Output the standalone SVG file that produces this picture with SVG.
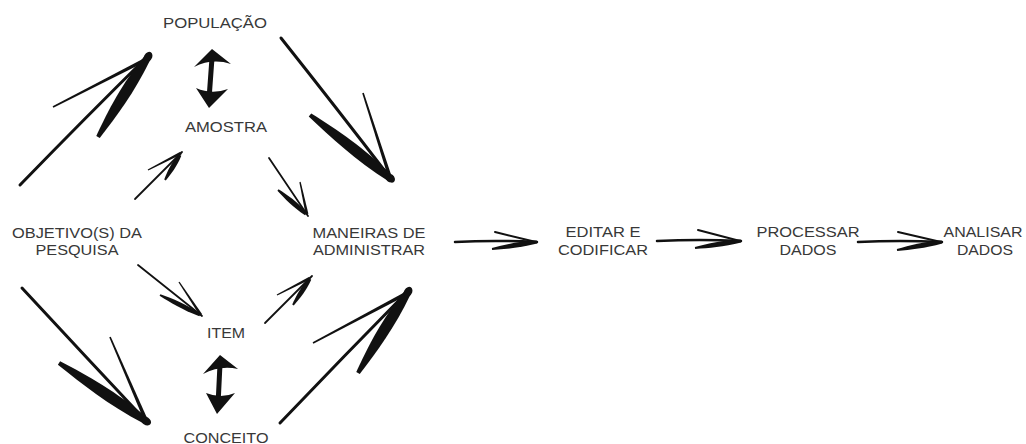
<svg xmlns="http://www.w3.org/2000/svg" xmlns:xlink="http://www.w3.org/1999/xlink" width="1026" height="444" viewBox="0 0 1026 444">
<style>
text{font-family:"Liberation Sans",Arial,sans-serif;font-size:14px;fill:#383838;text-anchor:middle}
.sh{fill:none;stroke:#111;stroke-linecap:round}
.big{stroke-width:3}
.sm{stroke-width:1.8}
.hz{stroke-width:2.5}
.bb{stroke-width:2}
.ink{fill:#111}
</style>
<defs>
<path id="wedge" d="M0,-1.5 C30,-4 60,-6 100,-2.5 L100,2.5 C60,5.5 30,3.5 0,1.5 Z"/>
<path id="thin" d="M0,-0.6 L100,-1.3 L100,1.3 L0,0.6 Z"/>
</defs>
<rect width="1026" height="444" fill="#fff"/>

<g id="connectors" class="ink">
  <!-- big top-left: objetivo -> populacao -->
  <path class="sh big" d="M20,185 Q85,118 149,55"/>
  <use href="#thin" transform="translate(53,107) rotate(-27.1) scale(1.033,1.4)"/>
  <use href="#wedge" transform="translate(98,137) rotate(-58) scale(0.943,1.35)"/>
  <ellipse cx="148" cy="57" rx="5.5" ry="4" transform="rotate(-58 148 57)"/>
  <!-- big top-right: populacao -> maneiras -->
  <path class="sh big" d="M281,38 Q335,106 391,179"/>
  <use href="#thin" transform="translate(363,93) rotate(72.2) scale(0.882,1.4)"/>
  <use href="#wedge" transform="translate(310,115) rotate(38.3) scale(1.032,1.35)"/>
  <ellipse cx="390" cy="178" rx="5.5" ry="4" transform="rotate(38 390 178)"/>
  <!-- big bottom-left: objetivo -> conceito -->
  <path class="sh big" d="M22,288 Q85,356 147,422"/>
  <use href="#thin" transform="translate(110,337) rotate(66.6) scale(0.882,1.4)"/>
  <use href="#wedge" transform="translate(59,363) rotate(33.7) scale(1.046,1.35)"/>
  <ellipse cx="146" cy="421" rx="5.5" ry="4" transform="rotate(34 146 421)"/>
  <!-- big bottom-right: conceito -> maneiras -->
  <path class="sh big" d="M280,423 Q345,355 409,290"/>
  <use href="#thin" transform="translate(313,343) rotate(-28) scale(1.042,1.4)"/>
  <use href="#wedge" transform="translate(358,373) rotate(-58.3) scale(0.952,1.35)"/>
  <ellipse cx="408" cy="292" rx="5.5" ry="4" transform="rotate(-58 408 292)"/>

  <!-- small: objetivo -> amostra -->
  <path class="sh sm" d="M135,199 L182,152"/>
  <use href="#thin" transform="translate(148,170) rotate(-27.3) scale(0.371,1.1)"/>
  <use href="#wedge" transform="translate(165,180) rotate(-59) scale(0.292,0.6)"/>
  <!-- small: amostra -> maneiras -->
  <path class="sh sm" d="M269,158 L308,216"/>
  <use href="#thin" transform="translate(300,182) rotate(77.7) scale(0.328,1.1)"/>
  <use href="#wedge" transform="translate(278,190) rotate(40.6) scale(0.369,0.6)"/>
  <!-- small: objetivo -> item -->
  <path class="sh sm" d="M138,265 L202,316"/>
  <use href="#thin" transform="translate(179,282) rotate(56.3) scale(0.397,1.1)"/>
  <use href="#wedge" transform="translate(160,295) rotate(26.6) scale(0.447,0.6)"/>
  <!-- small: item -> maneiras -->
  <path class="sh sm" d="M265,323 L312,276"/>
  <use href="#thin" transform="translate(277,295) rotate(-27.3) scale(0.371,1.1)"/>
  <use href="#wedge" transform="translate(293,305) rotate(-56.8) scale(0.311,0.6)"/>

  <!-- double arrow populacao <-> amostra -->
  <path class="sh" stroke-width="5" d="M212,58 L209,99"/>
  <path d="M212,49 L231,64 Q212,58 194,67 Z"/>
  <path d="M209,108 L196,88 Q212,95 228,89 Z"/>
  <!-- double arrow item <-> conceito -->
  <path class="sh" stroke-width="5" d="M220,364 L218,405"/>
  <path d="M220,355 L238,369 Q220,365 203,374 Z"/>
  <path d="M217,414 L206,393 Q221,399 235,393 Z"/>

  <!-- horizontal arrows -->
  <path class="sh hz" d="M455,242 Q495,240 537,242"/>
  <path class="sh bb" d="M495,232 L536,242"/>
  <use href="#wedge" transform="translate(492,249) rotate(-8.8) scale(0.455,0.6)"/>
  <path class="sh hz" d="M657,241 Q700,239 741,241"/>
  <path class="sh bb" d="M698,230 L740,241"/>
  <use href="#wedge" transform="translate(695,248) rotate(-8.7) scale(0.465,0.6)"/>
  <path class="sh hz" d="M858,242 Q900,240 942,242"/>
  <path class="sh bb" d="M898,232 L941,242"/>
  <use href="#wedge" transform="translate(897,250) rotate(-10.1) scale(0.457,0.6)"/>
</g>

<g id="populacao"><text x="215" y="28" textLength="104" lengthAdjust="spacingAndGlyphs">POPULAÇÃO</text></g>
<g id="amostra"><text x="226" y="132" textLength="82" lengthAdjust="spacingAndGlyphs">AMOSTRA</text></g>
<g id="objetivo"><text x="77" y="238" textLength="130" lengthAdjust="spacingAndGlyphs">OBJETIVO(S) DA</text><text x="77" y="255" textLength="83" lengthAdjust="spacingAndGlyphs">PESQUISA</text></g>
<g id="maneiras"><text x="369" y="238" textLength="113" lengthAdjust="spacingAndGlyphs">MANEIRAS DE</text><text x="369" y="255" textLength="112" lengthAdjust="spacingAndGlyphs">ADMINISTRAR</text></g>
<g id="item"><text x="226" y="338" textLength="38" lengthAdjust="spacingAndGlyphs">ITEM</text></g>
<g id="conceito"><text x="226" y="443" textLength="85" lengthAdjust="spacingAndGlyphs">CONCEITO</text></g>
<g id="editar"><text x="603" y="237" textLength="75" lengthAdjust="spacingAndGlyphs">EDITAR E</text><text x="603" y="255" textLength="90" lengthAdjust="spacingAndGlyphs">CODIFICAR</text></g>
<g id="processar"><text x="808" y="237" textLength="103" lengthAdjust="spacingAndGlyphs">PROCESSAR</text><text x="808" y="255" textLength="57" lengthAdjust="spacingAndGlyphs">DADOS</text></g>
<g id="analisar"><text x="983" y="237" textLength="79" lengthAdjust="spacingAndGlyphs">ANALISAR</text><text x="985" y="255" textLength="56" lengthAdjust="spacingAndGlyphs">DADOS</text></g>
</svg>
